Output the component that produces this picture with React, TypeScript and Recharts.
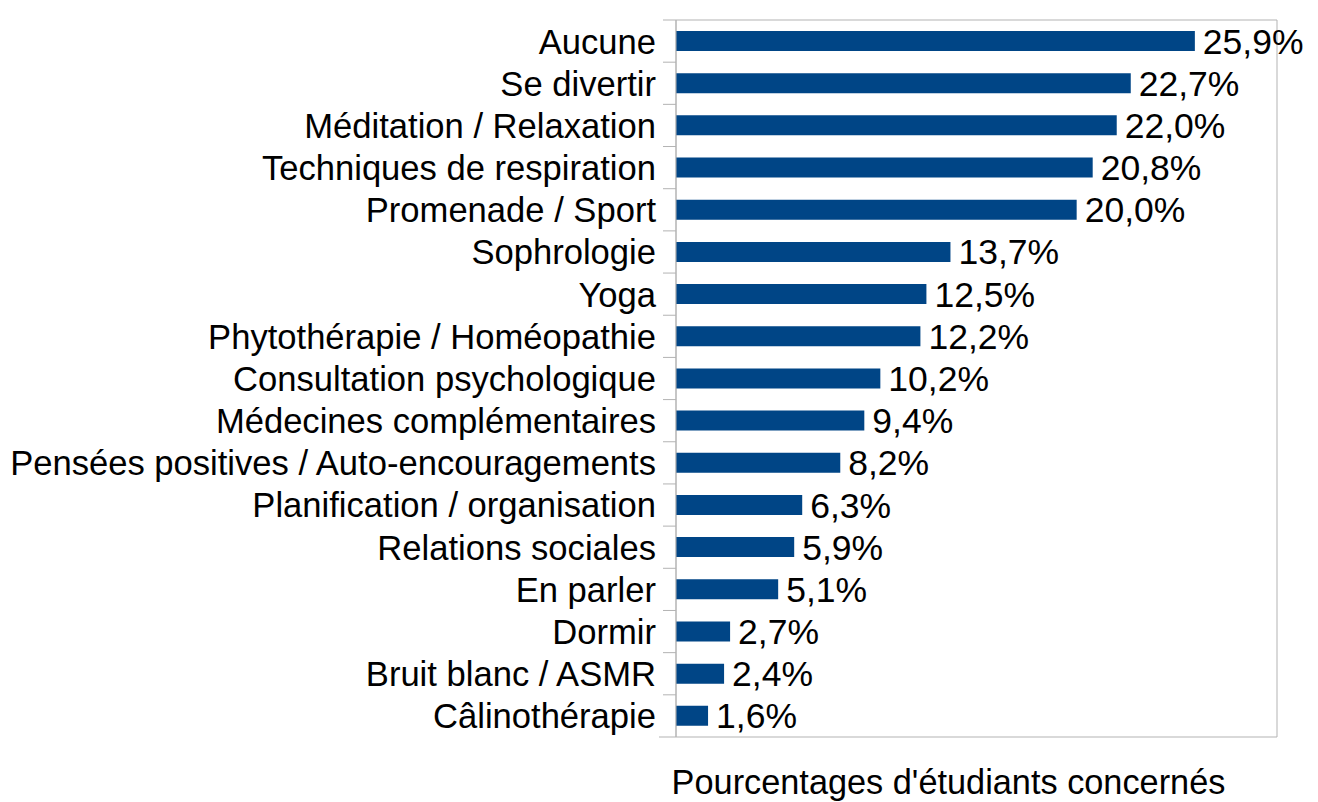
import React from "react";
import { BarChart, Bar, XAxis, YAxis, CartesianGrid, LabelList } from "recharts";

document.body.style.margin = "0";

const categories = [
  "Aucune",
  "Se divertir",
  "Méditation / Relaxation",
  "Techniques de respiration",
  "Promenade / Sport",
  "Sophrologie",
  "Yoga",
  "Phytothérapie / Homéopathie",
  "Consultation psychologique",
  "Médecines complémentaires",
  "Pensées positives / Auto-encouragements",
  "Planification / organisation",
  "Relations sociales",
  "En parler",
  "Dormir",
  "Bruit blanc / ASMR",
  "Câlinothérapie",
];

const percentages = [25.9, 22.7, 22.0, 20.8, 20.0, 13.7, 12.5, 12.2, 10.2, 9.4, 8.2, 6.3, 5.9, 5.1, 2.7, 2.4, 1.6];

const xTicks = [0, 5, 10, 15, 20, 25, 30];

const axisTitle = "Pourcentages d'étudiants concernés";

const data = categories.map((name, i) => ({ name, value: percentages[i] }));

const FONT = '"Liberation Sans", Arial, sans-serif';
const GRID = "#b3b3b3";

// category label + boundary tick marks (ticks sit between categories, not at centres)
const CategoryTick = (props: any) => {
  const { x, y, payload, index, visibleTicksCount } = props;
  const half = payload.offset || 0;
  const isLast = index === visibleTicksCount - 1;
  return (
    <g>
      <line x1={x - 13} x2={x} y1={y - half} y2={y - half} stroke={GRID} strokeWidth={1} />
      {isLast && <line x1={x - 17} x2={x} y1={y + half} y2={y + half} stroke={GRID} strokeWidth={1} />}
      <text x={x - 20} y={y} dy="0.36em" textAnchor="end" fontSize={34.6} fontFamily={FONT} fill="#000">
        {payload.value}
      </text>
    </g>
  );
};

const App = () => {
  return (
    <div style={{ width: 1318, height: 802, background: "#fff", overflow: "hidden" }}>
      <BarChart
        width={1318}
        height={802}
        data={data}
        layout="vertical"
        margin={{ top: 8, right: 41, bottom: 0, left: 0 }}
        barSize={20}
      >
        <CartesianGrid horizontal={false} stroke={GRID} />
        <XAxis
          type="number"
          xAxisId="top"
          orientation="top"
          domain={[0, 30]}
          ticks={xTicks}
          height={12}
          tickSize={12}
          axisLine={{ stroke: GRID }}
          tickLine={{ stroke: GRID }}
          tickFormatter={() => ""}
        />
        <XAxis
          type="number"
          domain={[0, 30]}
          ticks={xTicks}
          height={65}
          tick={false}
          tickLine={false}
          axisLine={{ stroke: GRID }}
          label={{
            value: axisTitle,
            position: "insideBottom",
            offset: 8,
            dx: -28,
            fontSize: 34.3,
            fontFamily: FONT,
            fill: "#000",
          }}
        />
        <YAxis
          type="category"
          dataKey="name"
          width={676}
          tickSize={0}
          tickMargin={0}
          tickLine={false}
          axisLine={{ stroke: GRID }}
          interval={0}
          tick={<CategoryTick />}
        />
        <Bar dataKey="value" fill="#004586" isAnimationActive={false}>
          <LabelList
            dataKey="value"
            position="right"
            offset={8}
            formatter={(v: any) => `${Number(v).toFixed(1).replace(".", ",")}%`}
            style={{ fontSize: 35.5, fontFamily: FONT, fill: "#000" }}
          />
        </Bar>
      </BarChart>
    </div>
  );
};

export default App;
